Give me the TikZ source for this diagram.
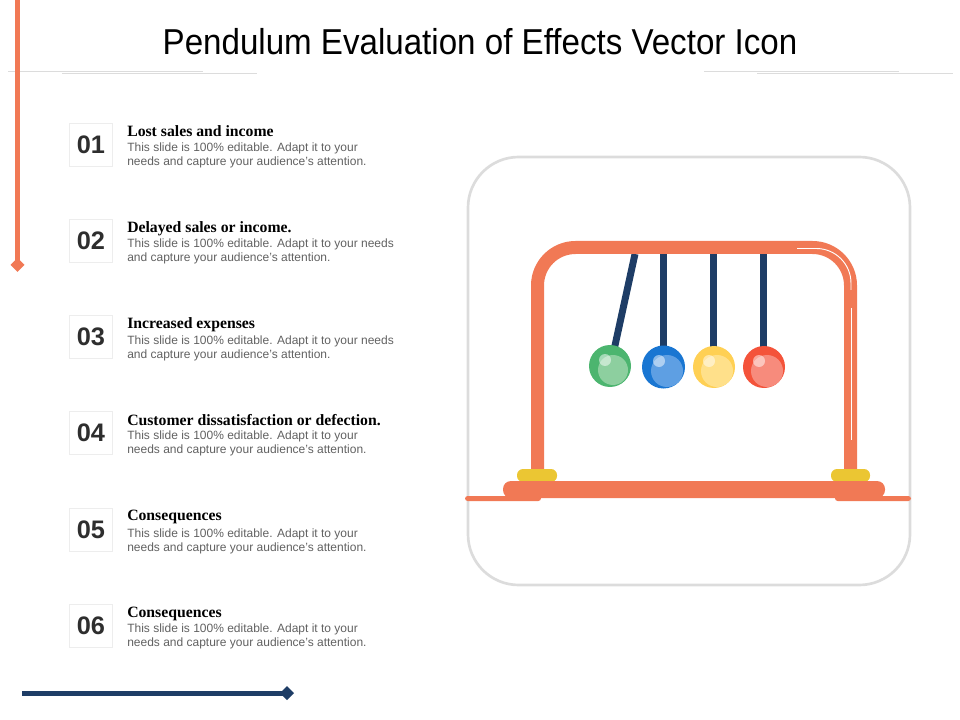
\documentclass[tikz,border=0pt]{standalone}
\usepackage{fontspec}
\usepackage{xcolor}
\setmainfont{Liberation Sans}
\newfontfamily\headfont{Liberation Serif}
\newfontfamily\titlefont[FakeStretch=0.92]{Liberation Sans}
\usetikzlibrary{positioning,shadows}
\definecolor{framecol}{HTML}{F17955}
\definecolor{navycol}{HTML}{1E3D66}
\definecolor{capcol}{HTML}{EBC633}
\definecolor{rulecol}{HTML}{DCDCDC}
\definecolor{greenout}{HTML}{4CB56F}
\definecolor{greenin}{HTML}{8DCF9F}
\definecolor{blueout}{HTML}{1976D2}
\definecolor{bluein}{HTML}{5E9FE3}
\definecolor{yellowout}{HTML}{FFD054}
\definecolor{yellowin}{HTML}{FFE08A}
\definecolor{redout}{HTML}{F4533A}
\definecolor{redin}{HTML}{F78B7C}

\begin{document}
\begin{tikzpicture}[x=0.75pt, y=-0.75pt,
    numbox/.style={rectangle, fill=white, draw=black!7, line width=0.6pt, minimum width=32.5pt, minimum height=32.5pt, inner sep=0pt, font=\fontsize{19}{19}\selectfont\bfseries, text=black!82, drop shadow={shadow xshift=0.5pt, shadow yshift=-0.5pt, opacity=0.1}},
    headtext/.style={anchor=west, inner sep=0pt, text height=9pt, text depth=2.5pt, font=\headfont\fontsize{11.8}{13}\selectfont\bfseries},
    bodytext/.style={anchor=north west, inner sep=0pt, align=left, text=black!62, font=\fontsize{9}{10.5}\selectfont},
    hairline/.style={draw=rulecol, line width=0.7pt},
    string/.style={draw=navycol, line width=5.2pt},
    shine/.style={fill=white, opacity=0.5},
    gleam/.style={draw=white, line width=0.7pt}
]
    \useasboundingbox (0,0) rectangle (960,720);

    % title and rules
    \node[inner sep=0pt, font=\titlefont\fontsize{27}{30}\selectfont] (title) at (480,42) {Pendulum Evaluation of Effects Vector Icon};
    \draw[hairline] (8,71) -- (203,71);
    \draw[hairline] (62,73) -- (257,73);
    \draw[hairline] (704,71) -- (899,71);
    \draw[hairline] (757,73) -- (953,73);

    % side bars
    \fill[framecol] (15,0) rectangle (20,262);
    \fill[framecol] (17.5,258) -- (24.5,265) -- (17.5,272) -- (10.5,265) -- cycle;
    \fill[navycol] (22,690.5) rectangle (283,695.5);
    \fill[navycol] (287,686) -- (294,693) -- (287,700) -- (280,693) -- cycle;

    % list
    \node[numbox] (n1) at (91,145) {01};
    \node[numbox] (n2) at (91,241) {02};
    \node[numbox] (n3) at (91,337) {03};
    \node[numbox] (n4) at (91,433) {04};
    \node[numbox] (n5) at (91,530) {05};
    \node[numbox] (n6) at (91,626) {06};

    \node[headtext] (h1) at (127,132) {Lost sales and income};
    \node[headtext] (h2) at (127,228) {Delayed sales or income.};
    \node[headtext] (h3) at (127,324) {Increased expenses};
    \node[headtext] (h4) at (127,421) {Customer dissatisfaction or defection.};
    \node[headtext] (h5) at (127,516) {Consequences};
    \node[headtext] (h6) at (127,613) {Consequences};

    \node[bodytext] (b1) at (127,143) {This slide is 100\% editable. Adapt it to your\\needs and capture your audience's attention.};
    \node[bodytext] (b2) at (127,239) {This slide is 100\% editable. Adapt it to your needs\\and capture your audience's attention.};
    \node[bodytext] (b3) at (127,336) {This slide is 100\% editable. Adapt it to your needs\\and capture your audience's attention.};
    \node[bodytext] (b4) at (127,431) {This slide is 100\% editable. Adapt it to your\\needs and capture your audience's attention.};
    \node[bodytext] (b5) at (127,529) {This slide is 100\% editable. Adapt it to your\\needs and capture your audience's attention.};
    \node[bodytext] (b6) at (127,624) {This slide is 100\% editable. Adapt it to your\\needs and capture your audience's attention.};

    % icon frame
    \draw[draw=rulecol, line width=2pt, rounded corners=38pt] (468,157) rectangle (910,585);

    % strings
    \draw[string] (635,254) -- (614,350);
    \draw[string] (663.5,254) -- (663.5,350);
    \draw[string] (713.5,254) -- (713.5,350);
    \draw[string] (763.5,254) -- (763.5,350);

    % balls
    \fill[greenout] (610,366) circle (21);
    \fill[greenin] (613,370) circle (15);
    \fill[shine] (605,360) circle (6);
    \fill[blueout] (663.5,367) circle (21.5);
    \fill[bluein] (667,371) circle (16);
    \fill[shine] (659,361) circle (6);
    \fill[yellowout] (714,367) circle (21);
    \fill[yellowin] (717,371) circle (16);
    \fill[shine] (709,361) circle (6);
    \fill[redout] (764,367) circle (21);
    \fill[redin] (767,371) circle (16);
    \fill[shine] (759,361) circle (6);

    % stand
    \draw[framecol, line width=9.75pt, rounded corners=28.5pt] (537.5,475) -- (537.5,247.5) -- (850.5,247.5) -- (850.5,475);
    \draw[gleam, rounded corners=26pt] (797,248.5) -- (851,248.5) -- (851,290);
    \draw[gleam] (851,308) -- (851,440);
    \fill[capcol, rounded corners=4.5pt] (517,482) -- (517,469) -- (557,469) -- (557,482) -- cycle;
    \fill[capcol, rounded corners=4.5pt] (831,482) -- (831,469) -- (870,469) -- (870,482) -- cycle;
    \fill[framecol, rounded corners=2pt] (465,496) rectangle (541,501);
    \fill[framecol, rounded corners=2pt] (835,496) rectangle (911,501);
    \fill[framecol, rounded corners=6pt] (503,498) -- (503,481) -- (885,481) -- (885,498) -- cycle;
\end{tikzpicture}
\end{document}
